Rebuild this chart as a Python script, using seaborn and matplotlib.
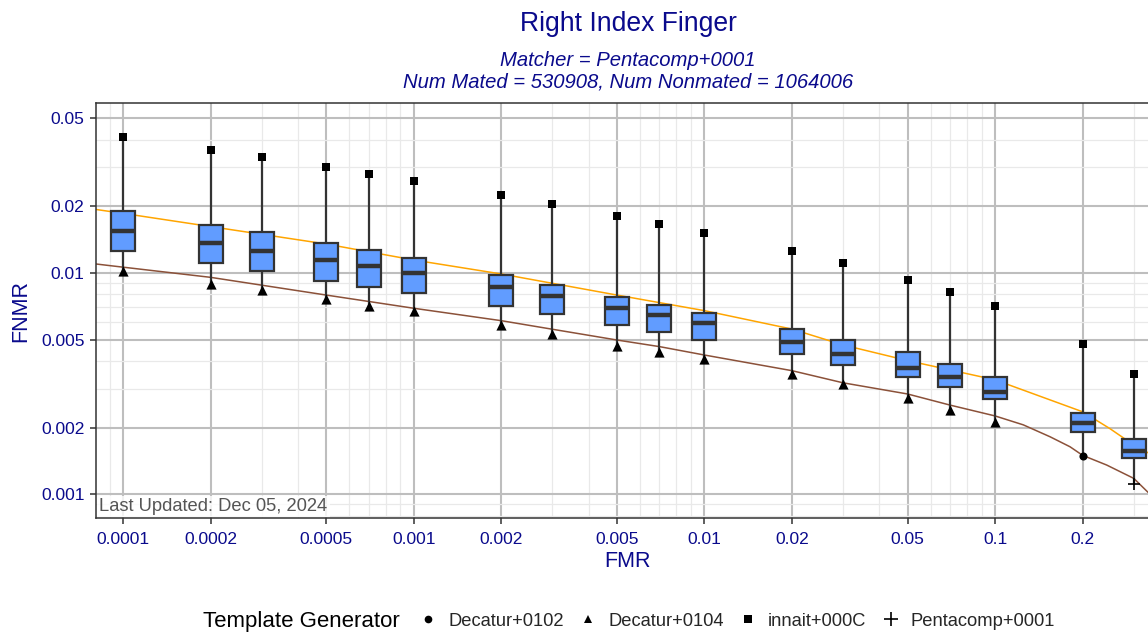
import numpy as np
import pandas as pd
import matplotlib
matplotlib.use("Agg")
import matplotlib.pyplot as plt
from matplotlib.ticker import FixedLocator, FixedFormatter, LogLocator, NullFormatter
from matplotlib.lines import Line2D
import seaborn as sns

# ---------------- data ----------------
fmr = [0.0001, 0.0002, 0.0003, 0.0005, 0.0007, 0.001, 0.002, 0.003, 0.005,
       0.007, 0.01, 0.02, 0.03, 0.05, 0.07, 0.1, 0.2, 0.3]
fnmr_max = [0.0413, 0.0360, 0.0334, 0.0302, 0.0281, 0.0261, 0.0225, 0.0205, 0.0181,
            0.0166, 0.0152, 0.0126, 0.0111, 0.0093, 0.0082, 0.0071, 0.0048, 0.0035]
fnmr_q3 = [0.0190, 0.0165, 0.0153, 0.0137, 0.0127, 0.0117, 0.0098, 0.0088, 0.0078,
           0.0072, 0.0066, 0.0056, 0.0050, 0.0044, 0.0039, 0.0034, 0.00234, 0.00177]
fnmr_median = [0.0155, 0.0137, 0.0126, 0.0115, 0.0108, 0.0100, 0.0086, 0.0079, 0.00695,
               0.00646, 0.00596, 0.0049, 0.0043, 0.00373, 0.0034, 0.0029, 0.00209, 0.00157]
fnmr_q1 = [0.0126, 0.0111, 0.0102, 0.0092, 0.0086, 0.0081, 0.0071, 0.0065, 0.0058,
           0.0054, 0.0050, 0.0043, 0.00384, 0.00338, 0.00304, 0.0027, 0.00192, 0.00146]
fnmr_min = [0.0102, 0.0089, 0.0084, 0.0076, 0.0071, 0.0067, 0.0058, 0.0053, 0.0047,
            0.0044, 0.0041, 0.0035, 0.00314, 0.00272, 0.0024, 0.00212, 0.00149, 0.00111]
max_generator = ["innait+000C"] * 18
min_generator = ["Decatur+0104"] * 16 + ["Decatur+0102", "Pentacomp+0001"]

orange_fmr = [8.0e-5, 1e-4, 5e-4, 1e-3, 2e-3, 5e-3, 1e-2, 2e-2, 3e-2, 5e-2, 0.1,
              0.2, 0.2484, 0.3, 0.336]
orange_fnmr = [0.0194, 0.0186, 0.01352, 0.01145, 0.0099, 0.00795, 0.00676, 0.00558,
               0.00473, 0.00402, 0.00329, 0.00236, 0.00198, 0.00167, 0.00154]

brown_fmr = [8.0e-5, 9.0e-5, 2e-4, 5e-4, 1e-3, 2e-3, 3e-3, 5e-3, 7e-3, 1e-2, 2e-2,
             3e-2, 5e-2, 7e-2, 0.1, 0.125, 0.1545, 0.181, 0.2, 0.242, 0.3, 0.336]
brown_fnmr = [0.0110, 0.0108, 0.00956, 0.00795, 0.00693, 0.00609, 0.00557, 0.00498,
              0.00465, 0.00426, 0.00362, 0.00319, 0.00284, 0.00253, 0.00226, 0.00206,
              0.00182, 0.00164, 0.00150, 0.001356, 0.00118, 0.00102]

x_ticks = [0.0001, 0.0002, 0.0005, 0.001, 0.002, 0.005, 0.01, 0.02, 0.05, 0.1, 0.2]
x_ticklabels = ["0.0001", "0.0002", "0.0005", "0.001", "0.002", "0.005", "0.01",
                "0.02", "0.05", "0.1", "0.2"]
y_ticks = [0.001, 0.002, 0.005, 0.01, 0.02, 0.05]
y_ticklabels = ["0.001", "0.002", "0.005", "0.01", "0.02", "0.05"]

generators = ["Decatur+0102", "Decatur+0104", "innait+000C", "Pentacomp+0001"]
gen_markers = {"Decatur+0102": "o", "Decatur+0104": "^", "innait+000C": "s",
               "Pentacomp+0001": "+"}

# ---------------- style ----------------
sns.set_theme(style="white")
plt.rcParams["font.family"] = ["Liberation Sans", "DejaVu Sans"]
NAVY = "#0A0A8C"
DARK = "#333333"

fig = plt.figure(figsize=(11.48, 6.33), dpi=100)
ax = fig.add_axes([95.7 / 1148, 1 - 517.7 / 633, 1 - 95.7 / 1148, (517.7 - 102.7) / 633])

# long table for the boxes (five-number summaries)
rows = []
for i, f in enumerate(fmr):
    for v in (fnmr_min[i], fnmr_q1[i], fnmr_median[i], fnmr_q3[i], fnmr_max[i]):
        rows.append({"FMR": f, "FNMR": v})
box_df = pd.DataFrame(rows)

# DET curves (behind boxes)
sns.lineplot(x=orange_fmr, y=orange_fnmr, color="#FFA500", linewidth=1.1,
             ax=ax, sort=False, estimator=None, zorder=1.5)
sns.lineplot(x=brown_fmr, y=brown_fnmr, color="#8B5139", linewidth=1.1,
             ax=ax, sort=False, estimator=None, zorder=1.5)

sns.boxplot(data=box_df, x="FMR", y="FNMR", orient="x", native_scale=True,
            log_scale=True, whis=(0, 100), width=0.565, color="#619CFF",
            saturation=1, linecolor=DARK, linewidth=1.6, showcaps=False,
            fliersize=0, medianprops={"linewidth": 3.2, "color": DARK},
            ax=ax, zorder=2)

# extreme points per generator
pts = pd.DataFrame({
    "FMR": fmr + fmr,
    "FNMR": fnmr_max + fnmr_min,
    "Generator": max_generator + min_generator,
})
marker_sizes = {"Decatur+0102": 34, "Decatur+0104": 54, "innait+000C": 32}
for g in ["innait+000C", "Decatur+0104", "Decatur+0102"]:
    sub = pts[pts["Generator"] == g]
    sns.scatterplot(data=sub, x="FMR", y="FNMR", marker=gen_markers[g],
                    color="black", s=marker_sizes[g], linewidth=0, legend=False,
                    ax=ax, zorder=4)
plus = pts[pts["Generator"] == "Pentacomp+0001"]
sns.scatterplot(data=plus, x="FMR", y="FNMR", marker="+", color="black",
                s=70, linewidth=1.2, legend=False, ax=ax, zorder=4)

# ---------------- axes ----------------
ax.set_xscale("log")
ax.set_yscale("log")
ax.set_xlim(8.056e-5, 0.3357)
ax.set_ylim(0.000784, 0.05882)
ax.xaxis.set_major_locator(FixedLocator(x_ticks))
ax.xaxis.set_major_formatter(FixedFormatter(x_ticklabels))
ax.yaxis.set_major_locator(FixedLocator(y_ticks))
ax.yaxis.set_major_formatter(FixedFormatter(y_ticklabels))
ax.xaxis.set_minor_locator(LogLocator(base=10, subs=np.arange(1, 10), numticks=50))
ax.yaxis.set_minor_locator(LogLocator(base=10, subs=np.arange(1, 10), numticks=50))
ax.xaxis.set_minor_formatter(NullFormatter())
ax.yaxis.set_minor_formatter(NullFormatter())

ax.grid(which="major", color="#BEBEBE", linewidth=1.5)
ax.grid(which="minor", color="#E9E9E9", linewidth=0.9)
ax.set_axisbelow(True)

ax.tick_params(axis="both", which="major", direction="out", length=4, width=1.1,
               color=DARK, labelsize=12.5, labelcolor=NAVY, bottom=True, left=True)
ax.tick_params(axis="x", which="major", pad=6)
ax.tick_params(axis="y", which="major", pad=4)
ax.tick_params(axis="both", which="minor", length=0)
for side in ("left", "bottom", "top"):
    ax.spines[side].set_color(DARK)
    ax.spines[side].set_linewidth(1.1)
ax.spines["right"].set_visible(False)

ax.set_xlabel("FMR", fontsize=15.5, color=NAVY)
ax.set_ylabel("FNMR", fontsize=15.5, color=NAVY)
ax.xaxis.label.set_va("center")
ax.yaxis.label.set_va("center")
ax.xaxis.set_label_coords((628 - 95.7) / (1148 - 95.7), (517.7 - 561.5) / 415)
ax.yaxis.set_label_coords((21 - 95.7) / (1148 - 95.7), (517.7 - 311) / 415)

ax.text(0.0035, 0.006, "Last Updated: Dec 05, 2024", transform=ax.transAxes,
        fontsize=13.2, color="#555555", ha="left", va="bottom", zorder=6,
        bbox=dict(boxstyle="square,pad=0.12", facecolor="white", alpha=0.8,
                  edgecolor="none"))

# ---------------- titles ----------------
cx = 628 / 1148
fig.text(cx, 1 - 24 / 633, "Right Index Finger", ha="center", va="center",
         fontsize=19.1, color=NAVY)
fig.text(cx, 1 - 60 / 633, "Matcher = Pentacomp+0001", ha="center", va="center",
         fontsize=14.6, color=NAVY, style="italic")
fig.text(cx, 1 - 81.5 / 633, "Num Mated = 530908, Num Nonmated = 1064006",
         ha="center", va="center", fontsize=14.6, color=NAVY, style="italic")

# ---------------- legend ----------------
fig.text(203 / 1148, 1 - 621 / 633, "Template Generator", ha="left", va="center",
         fontsize=16, color="black")
handles = []
for g in generators:
    m = gen_markers[g]
    if m == "+":
        handles.append(Line2D([], [], marker="+", color="black", linestyle="",
                              markersize=10, markeredgewidth=1.2))
    else:
        handles.append(Line2D([], [], marker=m, color="black", linestyle="",
                              markersize=6 if m == "^" else 5.5, markeredgewidth=0))
fig.legend(handles, generators, loc="center left",
           bbox_to_anchor=(419 / 1148, 1 - 621 / 633), ncol=4, frameon=False,
           fontsize=13.2, handlelength=1.0, handletextpad=0.6,
           columnspacing=0.82, borderpad=0, borderaxespad=0)

fig.savefig("out.png", dpi=100)
